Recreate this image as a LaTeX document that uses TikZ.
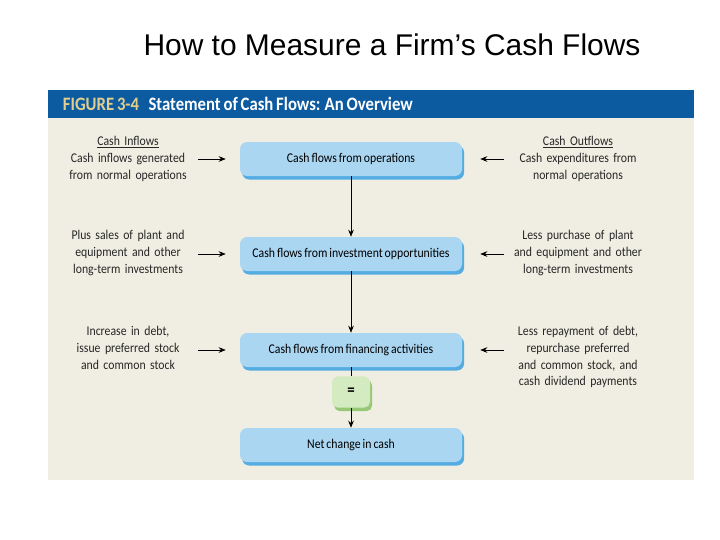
\documentclass[tikz,border=0pt]{standalone}
\usepackage{fontspec}
\setmainfont{Carlito}[FakeStretch=0.88,WordSpace=0.75]
\newfontfamily\titlefont{Liberation Sans}
\usetikzlibrary{shadows,arrows.meta}
\definecolor{hdrblue}{RGB}{12,90,160}
\definecolor{figtan}{RGB}{226,206,140}
\definecolor{panel}{RGB}{240,238,226}
\definecolor{boxblue}{RGB}{170,214,242}
\definecolor{boxshade}{RGB}{84,172,226}
\definecolor{eqgreen}{RGB}{212,234,192}
\definecolor{eqshade}{RGB}{150,200,120}
\begin{document}
\begin{tikzpicture}[>={Stealth[length=5pt,width=4pt]},
    flowbox/.style={fill=boxblue,rounded corners=5pt,minimum width=5.55cm,minimum height=0.85cm,
      font=\fontsize{9.5}{12}\selectfont,
      drop shadow={shadow xshift=1.5pt,shadow yshift=-2.5pt,fill=boxshade,opacity=1}},
    eqbox/.style={fill=eqgreen,rounded corners=4pt,minimum width=0.95cm,minimum height=0.78cm,
      font=\bfseries\fontsize{12}{14}\selectfont,
      drop shadow={shadow xshift=1.5pt,shadow yshift=-2.5pt,fill=eqshade,opacity=1}},
    sidetext/.style={align=center,text width=3.4cm,inner sep=0pt,text=black!85,
      font=\fontsize{9.5}{12}\selectfont}]
  \useasboundingbox (0,0) rectangle (18,-13.5);
  % title
  \node[font=\titlefont\fontsize{21.3}{25}\selectfont] (title) at (9.8,-1.125) {How to Measure a Firm’s Cash Flows};
  % figure panel
  \fill[panel] (1.2,-2.95) rectangle (17.35,-12.0);
  \fill[hdrblue] (1.2,-2.25) rectangle (17.35,-2.95);
  \node[anchor=west,font=\bfseries\fontsize{13.5}{15}\selectfont] (hdr) at (1.45,-2.6)
    {\textcolor{figtan}{FIGURE 3-4}\enspace\textcolor{white}{Statement of Cash Flows: An Overview}};
  % main column
  \node[flowbox] (ops) at (8.775,-3.975) {Cash flows from operations};
  \node[flowbox] (inv) at (8.775,-6.35) {Cash flows from investment opportunities};
  \node[flowbox] (fin) at (8.775,-8.75) {Cash flows from financing activities};
  \node[eqbox] (eq) at (8.775,-9.8) {=};
  \node[flowbox] (net) at (8.775,-11.125) {Net change in cash};
  \draw[->] (ops) -- (inv);
  \draw[->] (inv) -- (fin);
  \draw (fin) -- (eq);
  \draw[->] (eq) -- (net);
  % inflows
  \node[sidetext] (in1) at (3.2,-3.975) {\underline{Cash Inflows}\\Cash inflows generated\\from normal operations};
  \node[sidetext] (in2) at (3.2,-6.325) {Plus sales of plant and\\equipment and other\\long-term investments};
  \node[sidetext] (in3) at (3.2,-8.7) {Increase in debt,\\issue preferred stock\\and common stock};
  \draw[->,shorten <=0.05cm,shorten >=0.35cm] (in1.east |- ops) -- (ops.west);
  \draw[->,shorten <=0.05cm,shorten >=0.35cm] (in2.east |- inv) -- (inv.west);
  \draw[->,shorten <=0.05cm,shorten >=0.35cm] (in3.east |- fin) -- (fin.west);
  % outflows
  \node[sidetext] (out1) at (14.45,-3.975) {\underline{Cash Outflows}\\Cash expenditures from\\normal operations};
  \node[sidetext] (out2) at (14.45,-6.325) {Less purchase of plant\\and equipment and other\\long-term investments};
  \node[sidetext] (out3) at (14.45,-8.925) {Less repayment of debt,\\repurchase preferred\\and common stock, and\\cash dividend payments};
  \draw[<-,shorten <=0.45cm,shorten >=0.15cm] (ops.east) -- (ops.east -| out1.west);
  \draw[<-,shorten <=0.45cm,shorten >=0.15cm] (inv.east) -- (inv.east -| out2.west);
  \draw[<-,shorten <=0.45cm,shorten >=0.15cm] (fin.east) -- (fin.east -| out3.west);
\end{tikzpicture}
\end{document}
